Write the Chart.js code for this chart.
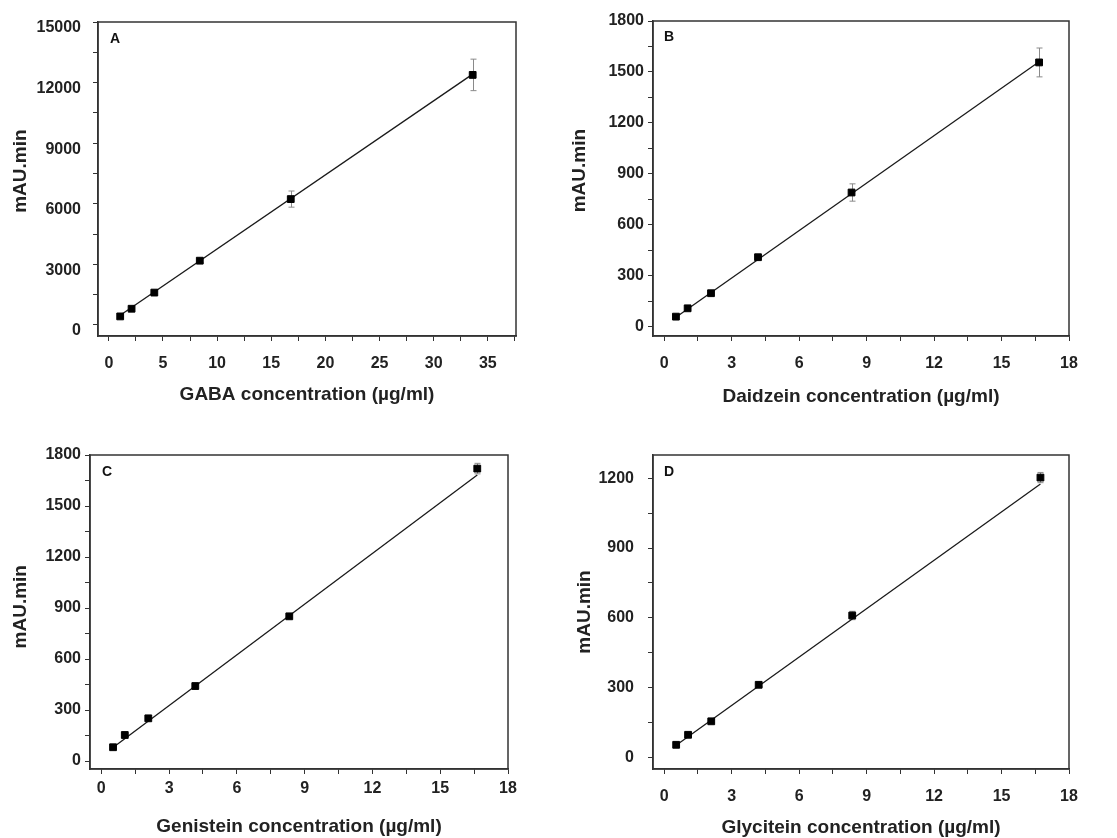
<!DOCTYPE html>
<html>
<head>
<meta charset="utf-8">
<script src="https://cdn.jsdelivr.net/npm/chart.js@4.4.0/dist/chart.umd.min.js"></script>
<style>
  body { margin: 0; width: 1117px; height: 838px; overflow: hidden; background: #fff; position: relative; }
  .panel { position: absolute; }
  .tag { position: absolute; font: bold 14px "Liberation Sans", Arial, sans-serif; line-height: 14px; color: #111; }
</style>
</head>
<body>
<div class="panel" id="pA"><canvas id="cA"></canvas></div>
<div class="panel" id="pB"><canvas id="cB"></canvas></div>
<div class="panel" id="pC"><canvas id="cC"></canvas></div>
<div class="panel" id="pD"><canvas id="cD"></canvas></div>
<div class="tag" style="left:110px;top:31px">A</div>
<div class="tag" style="left:664px;top:29px">B</div>
<div class="tag" style="left:102px;top:464px">C</div>
<div class="tag" style="left:664px;top:464px">D</div>

<script>
// A - GABA
const concA = [1.05, 2.1, 4.2, 8.4, 16.8, 33.6]
const areaA = [420, 800, 1600, 3180, 6230, 12380]
const errA  = [0, 0, 60, 100, 400, 780]
const fitXA = [1.05, 33.6]
const fitYA = [480, 12420]

// B - Daidzein
const concB = [0.52, 1.04, 2.08, 4.17, 8.33, 16.67]
const areaB = [59, 108, 197, 409, 790, 1556]
const errB  = [0, 0, 0, 12, 51, 85]
const fitXB = [0.52, 16.67]
const fitYB = [55, 1560]

// C - Genistein
const concC = [0.52, 1.04, 2.08, 4.16, 8.32, 16.64]
const areaC = [81, 153, 251, 441, 851, 1720]
const errC  = [6, 6, 6, 15, 8, 31]
const fitXC = [0.52, 16.64]
const fitYC = [80, 1682]

// D - Glycitein
const concD = [0.53, 1.06, 2.09, 4.2, 8.36, 16.73]
const areaD = [54, 97, 155, 312, 610, 1203]
const errD  = [5, 5, 6, 8, 18, 22]
const fitXD = [0.53, 16.73]
const fitYD = [52, 1175]

// axis ranges: [min, max, minor step, major step]
const xAxisA = [-1, 37.6, 2.5, 5]
const yAxisA = [-550, 15000, 1500, 3000]
const xAxisBCD = [-0.5, 18, 1.5, 3]
const yAxisB = [-55, 1800, 150, 300]
const yAxisC = [-47, 1800, 150, 300]
const yAxisD = [-50, 1300, 150, 300]

const titles = [
  "GABA concentration (\u00b5g/ml)",
  "Daidzein concentration (\u00b5g/ml)",
  "Genistein concentration (\u00b5g/ml)",
  "Glycitein concentration (\u00b5g/ml)"
]
const yTitle = "mAU.min"

const FONT = "'Liberation Sans', Arial, sans-serif"
const INK = "#222"

// draws error bars behind the markers and the closed frame around the plot
const panelExtras = {
  id: "panelExtras",
  beforeDatasetsDraw(chart, args, opts) {
    const { ctx, scales: { x, y } } = chart
    ctx.save()
    ctx.strokeStyle = "#8a8a8a"
    ctx.lineWidth = 1
    opts.conc.forEach((c, i) => {
      const e = opts.err[i]
      if (!e) return
      const px = Math.round(x.getPixelForValue(c)) + 0.5
      const t = y.getPixelForValue(opts.area[i] + e)
      const b = y.getPixelForValue(opts.area[i] - e)
      ctx.beginPath()
      ctx.moveTo(px, t); ctx.lineTo(px, b)
      ctx.moveTo(px - 3, t); ctx.lineTo(px + 3, t)
      ctx.moveTo(px - 3, b); ctx.lineTo(px + 3, b)
      ctx.stroke()
    })
    ctx.restore()
  },
  afterDraw(chart) {
    const { ctx, chartArea: a } = chart
    ctx.save()
    ctx.strokeStyle = "#333"
    ctx.lineWidth = 1.5
    ctx.strokeRect(a.left, a.top, a.right - a.left, a.bottom - a.top)
    ctx.restore()
  }
}

function tickLabel(major) {
  return (v) => Math.abs(v / major - Math.round(v / major)) < 1e-6 ? String(Math.round(v * 100) / 100) : ""
}

function axis(range, title, fixed, horizontal, pad, shift) {
  return {
    type: "linear",
    min: range[0],
    max: range[1],
    afterFit(scale) {
      if (horizontal) scale.height = fixed
      else scale.width = fixed
    },
    // every minor step gets a tick mark, only the major ones carry a label
    afterBuildTicks(scale) {
      const step = range[2]
      const list = []
      for (let v = Math.ceil(range[0] / step) * step; v <= range[1] + 1e-9; v += step) {
        list.push({ value: Math.round(v * 1000) / 1000 })
      }
      scale.ticks = list
    },
    grid: { display: true, drawOnChartArea: false, drawTicks: true, tickLength: 5, color: "#333", lineWidth: 1 },
    border: { display: true, color: "#333", width: 1.5 },
    ticks: {
      autoSkip: false,
      maxRotation: 0,
      padding: pad,
      labelOffset: shift || 0,
      color: INK,
      font: { family: FONT, size: 16, weight: "bold" },
      callback: tickLabel(range[3])
    },
    title: { display: true, text: title, color: INK, font: { family: FONT, size: 19, weight: "bold" } }
  }
}

function makePanel(id, box, conc, area, err, fitX, fitY, xr, yr, xTitle) {
  const holder = document.getElementById("p" + id)
  holder.style.left = box.left + "px"
  holder.style.top = box.top + "px"
  const canvas = document.getElementById("c" + id)
  canvas.width = box.w
  canvas.height = box.h
  canvas.style.width = box.w + "px"
  canvas.style.height = box.h + "px"

  // leading spaces nudge the rotated y title up a little, as in the original
  const yText = " ".repeat(box.ylift) + yTitle

  return new Chart(canvas.getContext("2d"), {
    type: "scatter",
    data: {
      datasets: [
        {
          label: "measured",
          data: conc.map((c, i) => ({ x: c, y: area[i] })),
          pointStyle: "rect",
          pointRadius: 4.8,
          backgroundColor: "#000",
          borderColor: "#000",
          borderWidth: 1
        },
        {
          label: "fit",
          data: fitX.map((c, i) => ({ x: c, y: fitY[i] })),
          showLine: true,
          pointRadius: 0,
          borderColor: "#1a1a1a",
          borderWidth: 1.3,
          fill: false
        }
      ]
    },
    options: {
      responsive: false,
      animation: false,
      layout: { padding: box.pad },
      plugins: {
        legend: { display: false },
        tooltip: { enabled: false },
        panelExtras: { conc, area, err }
      },
      scales: {
        x: axis(xr, xTitle, box.xh, true, box.xpad, 0),
        y: axis(yr, yText, box.yw, false, box.ypad, box.yshift)
      }
    },
    plugins: [panelExtras]
  })
}

makePanel("A", { left: 0, top: 0, w: 545, h: 418, pad: { left: 5, top: 22, right: 29, bottom: 8 }, yw: 93, xh: 74, ypad: 12, xpad: 13, yshift: 6, ylift: 3 },
  concA, areaA, errA, fitXA, fitYA, xAxisA, yAxisA, titles[0])
makePanel("B", { left: 557, top: 0, w: 560, h: 418, pad: { left: 7, top: 21, right: 48, bottom: 6 }, yw: 89, xh: 76, ypad: 4, xpad: 13, yshift: 0, ylift: 3 },
  concB, areaB, errB, fitXB, fitYB, xAxisBCD, yAxisB, titles[1])
makePanel("C", { left: 0, top: 418, w: 545, h: 425, pad: { left: 5, top: 37, right: 37, bottom: 1 }, yw: 85, xh: 73, ypad: 4, xpad: 5, yshift: 0, ylift: 2 },
  concC, areaC, errC, fitXC, fitYC, xAxisBCD, yAxisC, titles[2])
makePanel("D", { left: 557, top: 418, w: 560, h: 425, pad: { left: 12, top: 37, right: 48, bottom: 0 }, yw: 84, xh: 74, ypad: 14, xpad: 13, yshift: 0, ylift: 0 },
  concD, areaD, errD, fitXD, fitYD, xAxisBCD, yAxisD, titles[3])
</script>
</body>
</html>
